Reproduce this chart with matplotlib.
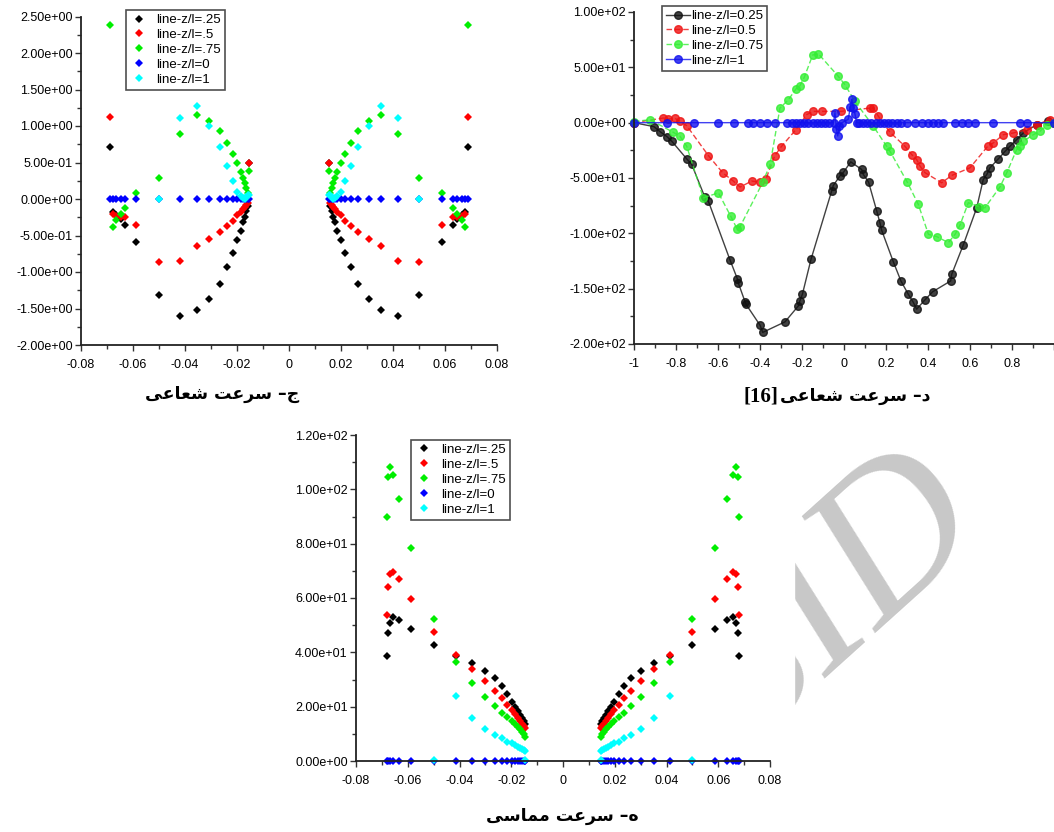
import numpy as np
import matplotlib.pyplot as plt
from matplotlib.patches import Rectangle
from matplotlib.ticker import MultipleLocator, FuncFormatter

plt.rcParams['font.family'] = ['Liberation Sans', 'DejaVu Sans']

nan = np.nan

# ---- radial velocity, present model (symmetric about r = 0) ----
c_r = [0.0687, 0.0677, 0.0665, 0.0645, 0.0630, 0.0590, 0.0500, 0.0418, 0.0354, 0.0308,
       0.0265, 0.0238, 0.0215, 0.0200, 0.0186, 0.0177, 0.0170, 0.0164, 0.0158, 0.0153]
c_025 = [0.71, -0.18, -0.22, -0.28, -0.36, -0.59, -1.31, -1.60, -1.52, -1.37,
         -1.16, -0.93, -0.74, -0.56, -0.44, -0.31, -0.24, -0.17, -0.10, 0.49]
c_05 = [1.12, -0.20, -0.23, -0.25, -0.25, -0.36, -0.86, -0.85, -0.65, -0.55,
        -0.45, -0.37, -0.30, -0.22, -0.18, -0.14, -0.11, -0.08, -0.05, 0.49]
c_075 = [2.38, -0.39, -0.29, -0.20, -0.13, 0.08, 0.29, 0.89, 1.15, 1.07,
         0.93, 0.77, 0.62, 0.49, 0.37, 0.29, 0.22, 0.15, 0.08, 0.38]
c_0 = [0.0, 0.0, 0.0, 0.0, 0.0, 0.0, 0.0, 0.0, 0.0, 0.0,
       0.0, 0.0, 0.0, 0.0, 0.0, 0.0, 0.0, 0.0, 0.0, 0.0]
c_1 = [nan, nan, nan, nan, nan, nan, 0.0, 1.11, 1.27, 1.00,
       0.71, 0.45, 0.25, 0.10, 0.04, 0.02, 0.0, 0.03, 0.05, 0.05]

# ---- tangential velocity, present model ----
e_r = [0.0682, 0.0676, 0.0669, 0.0658, 0.0633, 0.0586, 0.0500, 0.0414, 0.0353, 0.0301,
       0.0263, 0.0237, 0.0215, 0.0199, 0.0186, 0.0175, 0.0166, 0.0158, 0.0152, 0.0148, 0.0146]
e_025 = [38.6, 47.2, 50.9, 52.9, 51.9, 48.5, 42.7, 38.6, 35.9, 33.1,
         30.4, 27.6, 24.5, 21.8, 20.0, 18.5, 17.0, 15.9, 14.8, 13.5, nan]
e_05 = [53.9, 64.2, 68.8, 69.7, 66.9, 59.5, 47.6, 39.2, 33.7, 29.4,
        25.9, 23.1, 20.6, 18.8, 17.2, 15.8, 14.6, 13.6, 12.7, 12.0, nan]
e_075 = [89.9, 104.6, 108.1, 105.3, 96.3, 78.3, 52.3, 36.5, 28.6, 23.7,
         20.2, 17.8, 16.1, 14.8, 13.6, 12.6, 11.7, 10.8, 9.9, 8.9, nan]
e_0 = [0.0, 0.0, 0.0, 0.0, 0.0, 0.0, 0.0, 0.0, 0.0, 0.0,
       0.0, 0.0, 0.0, 0.0, 0.0, 0.0, 0.0, 0.0, 0.0, 0.0, 0.0]
e_1 = [nan, nan, nan, nan, nan, nan, 0.5, 24.0, 15.7, 11.8,
       9.6, 8.4, 7.1, 6.6, 5.9, 5.3, 4.8, 4.4, 4.1, 3.7, 0.3]

# ---- radial velocity, reference [16] ----
d_x_025 = [-1.0, -0.905, -0.876, -0.843, -0.819, -0.749, -0.725, -0.662, -0.646, -0.543,
           -0.508, -0.503, -0.471, -0.467, -0.40, -0.387, -0.281, -0.217, -0.21, -0.198,
           -0.157, -0.059, -0.051, -0.019, -0.003, 0.032, 0.084, 0.092, 0.117, 0.156,
           0.171, 0.179, 0.235, 0.271, 0.306, 0.33, 0.346, 0.386, 0.422, 0.508,
           0.513, 0.568, 0.632, 0.663, 0.68, 0.695, 0.735, 0.767, 0.79, 0.822,
           0.854, 0.917, 0.97, 1.0]
d_y_025 = [0, -3.6, -8.1, -12.6, -17, -32.7, -37.8, -67.6, -70.9, -124,
           -141, -145, -162, -164, -183, -189.5, -180, -165.5, -161, -155,
           -123.4, -61.9, -56.8, -48, -45, -35.4, -42.3, -46.8, -53.7, -79.9,
           -90.4, -97, -125.8, -143, -155, -162.4, -168.5, -160, -152.8, -143,
           -137, -110.5, -76.9, -51.4, -46.8, -40.8, -32.7, -25.9, -21.4, -15.3,
           -9.3, -1.8, 1.2, 0]
d_x_05 = [-1.0, -0.86, -0.836, -0.805, -0.781, -0.749, -0.646, -0.577, -0.527, -0.495,
          -0.44, -0.40, -0.371, -0.33, -0.30, -0.229, -0.178, -0.149, -0.106, -0.015,
          0.124, 0.14, 0.164, 0.219, 0.29, 0.322, 0.346, 0.362, 0.386, 0.465,
          0.513, 0.60, 0.687, 0.711, 0.759, 0.806, 0.87, 0.917, 0.981, 1.0]
d_y_05 = [0, 4.2, 3.3, 3.9, 1.2, -2.7, -29.7, -45.4, -52.8, -58.2,
          -52.8, -53.7, -50.5, -30, -22, -6.3, 7.2, 10.2, 10.2, 10.2,
          13.2, 13.2, 5.7, -8.7, -21.3, -28.8, -33.3, -39.3, -45.2, -54.3,
          -47.7, -40.8, -20.7, -18.3, -10.8, -9.3, -6.3, -1.8, 2.7, 0]
d_x_075 = [-1.0, -0.924, -0.813, -0.781, -0.749, -0.67, -0.598, -0.54, -0.508, -0.495,
           -0.387, -0.352, -0.305, -0.265, -0.229, -0.21, -0.189, -0.149, -0.122, -0.03,
           0.005, 0.052, 0.14, 0.203, 0.219, 0.302, 0.354, 0.402, 0.441, 0.497,
           0.529, 0.552, 0.592, 0.645, 0.671, 0.743, 0.775, 0.822, 0.838, 0.854,
           0.902, 0.933, 0.965, 1.0]
d_y_075 = [1, 2.7, -8.7, -12.3, -21.3, -67.9, -63.4, -84.3, -96.4, -94,
           -54, -37.8, 13.2, 20.7, 30.4, 33.3, 41.1, 61.2, 62.2, 42.5,
           34.2, 19.2, -3.3, -21.3, -25.9, -54, -73.9, -100.9, -102.9, -108.4,
           -100.9, -92.8, -72.3, -75.9, -76.9, -58, -45.3, -24.3, -21.3, -16.8,
           -10.8, -7.8, -1.8, 0]
d_x_1 = [-1.0, -0.844, -0.712, -0.598, -0.522, -0.456, -0.432, -0.40, -0.368, -0.329,
         -0.27, -0.25, -0.23, -0.21, -0.19, -0.17, -0.15, -0.13, -0.11, -0.09,
         -0.07, -0.05, -0.043, -0.036, -0.03, -0.022, -0.01, 0.02, 0.03, 0.037,
         0.045, 0.052, 0.06, 0.07, 0.09, 0.11, 0.13, 0.15, 0.17, 0.19,
         0.21, 0.23, 0.25, 0.27, 0.298, 0.338, 0.37, 0.402, 0.426, 0.449,
         0.473, 0.529, 0.56, 0.592, 0.624, 0.711, 0.838, 0.87, 1.0]
d_y_1 = [0, 0, 0, 0, 0, 0, 0, 0, 0, 0,
         0, 0, 0, 0, 0, 0, 0, 0, 0, 0,
         0, 0, 9, -6, -12, -3, 0, 3, 14, 21,
         13, 8, 0, 0, 0, 0, 0, 0, 0, 0,
         0, 0, 0, 0, 0, 0, 0, 0, 0, 0,
         0, 0, 0, 0, 0, 0, 0, 0, 0]

labels_cur = ['line-z/l=.25', 'line-z/l=.5', 'line-z/l=.75', 'line-z/l=0', 'line-z/l=1']
labels_ref = ['line-z/l=0.25', 'line-z/l=0.5', 'line-z/l=0.75', 'line-z/l=1']
colors = ['#000000', '#ff0000', '#00ee00', '#0000ff', '#00ffff']

# captions (Persian)
cap_c = 'ج– سرعت شعاعی'
cap_d = 'د– سرعت شعاعی'
cap_e = 'ه– سرعت مماسی'

# contextual forms: isolated, final, initial, medial
FORMS = {
    'ج': ('\uFE9D', '\uFE9E', '\uFE9F', '\uFEA0'),
    'د': ('\uFEA9', '\uFEAA', None, None),
    'ه': ('\uFEE9', '\uFEEA', '\uFEEB', '\uFEEC'),
    'س': ('\uFEB1', '\uFEB2', '\uFEB3', '\uFEB4'),
    'ر': ('\uFEAD', '\uFEAE', None, None),
    'ع': ('\uFEC9', '\uFECA', '\uFECB', '\uFECC'),
    'ت': ('\uFE95', '\uFE96', '\uFE97', '\uFE98'),
    'ش': ('\uFEB5', '\uFEB6', '\uFEB7', '\uFEB8'),
    'ا': ('\uFE8D', '\uFE8E', None, None),
    'ی': ('\uFBFC', '\uFBFD', '\uFBFE', '\uFBFF'),
    'م': ('\uFEE1', '\uFEE2', '\uFEE3', '\uFEE4'),
}


def rtl(text):
    out = []
    for i, ch in enumerate(text):
        if ch not in FORMS:
            out.append(ch)
            continue
        prev_j = i > 0 and text[i - 1] in FORMS and FORMS[text[i - 1]][2] is not None
        next_j = (i < len(text) - 1 and text[i + 1] in FORMS
                  and FORMS[ch][2] is not None)
        if prev_j and next_j:
            k = 3
        elif prev_j:
            k = 1
        elif next_j:
            k = 2
        else:
            k = 0
        out.append(FORMS[ch][k])
    return ''.join(out[::-1])


W, H = 1054, 832
fig = plt.figure(figsize=(W / 100, H / 100), dpi=100)


def px_axes(l, t, r, b):
    return fig.add_axes([l / W, 1 - b / H, (r - l) / W, (b - t) / H])


def xfmt(v, p):
    v = round(v, 6) + 0.0
    return '' if v >= 1 else f'{v:g}'


def style(ax, xmaj, xmin, ymaj, ymin):
    ax.patch.set_alpha(0)
    for s in ['top', 'right']:
        ax.spines[s].set_visible(False)
    for s in ['left', 'bottom']:
        ax.spines[s].set_linewidth(1.3)
        ax.spines[s].set_color('#222222')
    ax.xaxis.set_major_locator(MultipleLocator(xmaj))
    ax.xaxis.set_minor_locator(MultipleLocator(xmin))
    ax.yaxis.set_major_locator(MultipleLocator(ymaj))
    ax.yaxis.set_minor_locator(MultipleLocator(ymin))
    ax.xaxis.set_major_formatter(FuncFormatter(xfmt))
    ax.yaxis.set_major_formatter(FuncFormatter(lambda v, p: f'{round(v, 8) + 0.0:.2e}'))
    ax.tick_params(which='major', direction='out', length=4, width=1, color='#333333',
                   labelsize=9)
    ax.tick_params(which='minor', direction='out', length=3, width=1, color='#333333')
    ax.tick_params(axis='x', which='major', pad=6)
    ax.tick_params(axis='y', which='major', pad=2)


def legend_box(ax, x, y, **kw):
    opts = dict(loc='upper left', bbox_to_anchor=(x, y), fontsize=9.5, frameon=True,
                fancybox=False, borderaxespad=0, labelspacing=0.2, borderpad=0.3,
                handletextpad=0.6)
    opts.update(kw)
    leg = ax.legend(**opts)
    leg.get_frame().set_edgecolor('#222222')
    leg.get_frame().set_linewidth(1.2)
    return leg


# panel c: radial velocity
ax_c = px_axes(81, 16.5, 497, 345)
r = np.array(c_r)
for vals, col, lab in zip([c_025, c_05, c_075, c_0, c_1], colors, labels_cur):
    ax_c.plot(np.concatenate([-r, r]), vals + vals, 'D', color=col, ms=3.6,
              mew=0, label=lab, clip_on=False)
ax_c.set_xlim(-0.08, 0.08)
ax_c.set_ylim(-2.0, 2.5)
style(ax_c, 0.02, 0.01, 0.5, 0.25)
legend_box(ax_c, 0.108, 1.02, handlelength=1.4)

# panel d: radial velocity from reference [16]
ax_d = px_axes(634, 12, 1054, 344)
d_sets = [(d_x_025, d_y_025, '-'), (d_x_05, d_y_05, '--'),
          (d_x_075, d_y_075, '--'), (d_x_1, d_y_1, '-')]
d_cols = ['#111111', '#ee1111', '#33ee33', '#1111ee']
for (xs, ys, ls), col, lab in zip(d_sets, d_cols, labels_ref):
    ax_d.plot(xs, ys, ls, color=col, lw=1, marker='o', ms=5.5, mfc=col, mec=col,
              alpha=0.8, label=lab, clip_on=False, dashes=(4, 2) if ls == '--' else ())
ax_d.set_xlim(-1, 1)
ax_d.set_ylim(-200, 100)
style(ax_d, 0.2, 0.1, 50, 25)
legend_box(ax_d, 0.067, 1.018, handlelength=1.8, handletextpad=0.1)

# panel e: tangential velocity
ax_e = px_axes(356, 435, 770, 761)
re = np.array(e_r)
for vals, col, lab in zip([e_025, e_05, e_075, e_0, e_1], colors, labels_cur):
    ax_e.plot(np.concatenate([-re, re]), vals + vals, 'D', color=col, ms=3.6,
              mew=0, label=lab, clip_on=False)
ax_e.set_xlim(-0.08, 0.08)
ax_e.set_ylim(0, 120)
style(ax_e, 0.02, 0.01, 20, 10)
legend_box(ax_e, 0.133, 0.985, handlelength=1.4)

# captions
cap_font = dict(fontsize=12.5, fontweight='bold', family=['DejaVu Sans'],
                ha='center', va='center')
fig.text(222 / W, 1 - 394 / H, rtl(cap_c), **cap_font)
t_d = fig.text(855 / W, 1 - 396 / H, rtl(cap_d), **cap_font)
ax_d.annotate('[16]', xy=(0, 0.5), xycoords=t_d, xytext=(-1, 0),
              textcoords='offset points', fontsize=15, fontweight='bold',
              family=['Liberation Serif'], ha='right', va='center',
              annotation_clip=False)
fig.text(562 / W, 1 - 816 / H, rtl(cap_e), **cap_font)

# watermark, hidden behind the lower panel's white block
fig.text(835 / W, 1 - 600 / H, 'SID', fontsize=150, fontweight='normal',
         fontstyle='italic', family=['Liberation Serif'], color='#c8c8c8',
         rotation=42, ha='center', va='center', zorder=-1)
fig.add_artist(Rectangle((270 / W, 1 - 794 / H), (794 - 270) / W, (794 - 425) / H,
                         transform=fig.transFigure, color='white', zorder=-0.5))

fig.savefig('out.png', dpi=100, facecolor='white')
